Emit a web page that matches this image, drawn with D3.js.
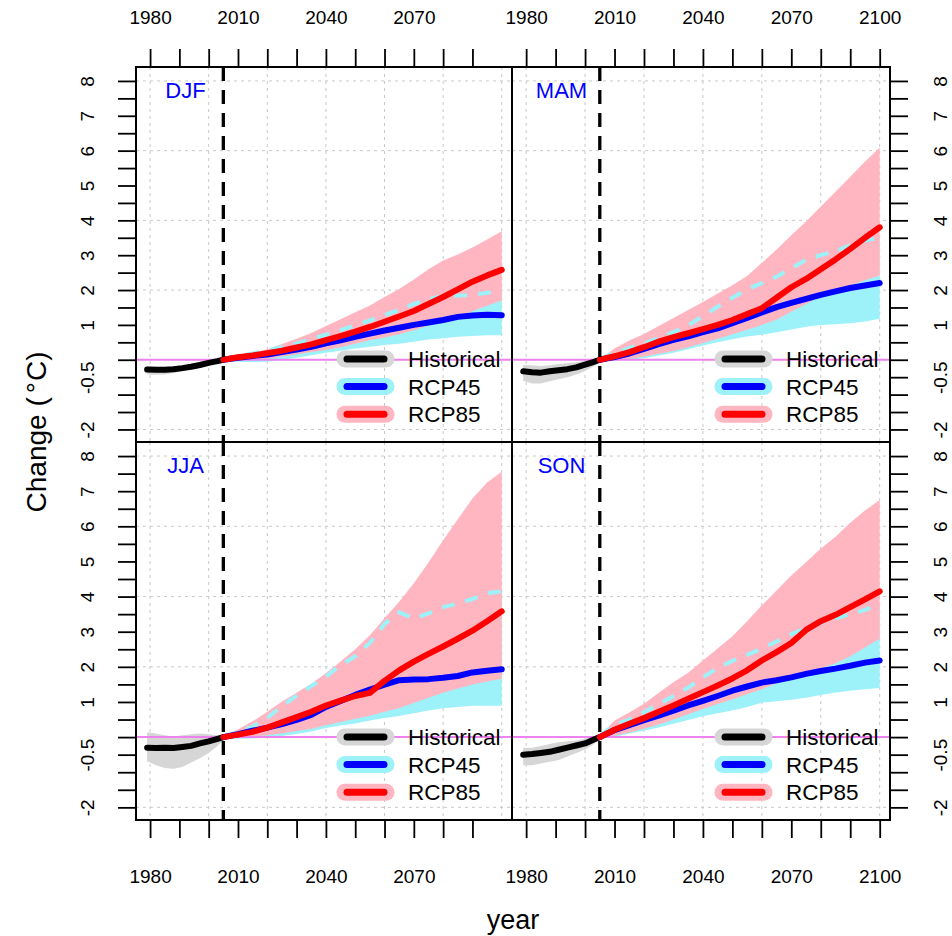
<!DOCTYPE html>
<html><head><meta charset="utf-8">
<script src="https://cdn.jsdelivr.net/npm/d3@7"></script>
<style>
body{margin:0;background:#fff}
svg{display:block;font-family:"Liberation Sans",Arial,Helvetica,sans-serif}
</style>
</head><body>
<svg id="chart" width="952" height="936"></svg>
<script>
// ---------------- data ----------------
const seasons = ["DJF", "MAM", "JJA", "SON"];
const histYears = [1979, 1982, 1985, 1988, 1991, 1994, 1997, 2000, 2003, 2005];
const futYears = [2005, 2010, 2015, 2020, 2025, 2030, 2035, 2040, 2045, 2050, 2055, 2060, 2065, 2070, 2075, 2080, 2085, 2090, 2095, 2100];
const xTickYears = [1980, 1990, 2000, 2010, 2020, 2030, 2040, 2050, 2060, 2070, 2080, 2090, 2100];
const xLabelYears = [1980, 2010, 2040, 2070, 2100];
const yTickValues = [-2, -1.5, -1, -0.5, 0, 0.5, 1, 1.5, 2, 2.5, 3, 3.5, 4, 4.5, 5, 5.5, 6, 6.5, 7, 7.5, 8];
const yTickLabels = ["-2", "", "", "-0.5", "", "", "1", "", "2", "", "3", "", "4", "", "5", "", "6", "", "7", "", "8"];
const legendLabels = ["Historical", "RCP45", "RCP85"];

// DJF
const djfHist   = [-0.28, -0.29, -0.29, -0.27, -0.24, -0.20, -0.15, -0.09, -0.04, 0.00];
const djfHistLo = [-0.42, -0.43, -0.42, -0.38, -0.34, -0.28, -0.22, -0.15, -0.08, -0.03];
const djfHistHi = [-0.18, -0.20, -0.20, -0.19, -0.16, -0.12, -0.08, -0.04, 0.00, 0.02];
const djfRcp45   = [0, 0.06, 0.11, 0.15, 0.22, 0.29, 0.37, 0.47, 0.56, 0.66, 0.75, 0.84, 0.92, 1.00, 1.07, 1.14, 1.23, 1.27, 1.29, 1.28];
const djfRcp45Lo = [-0.03, -0.06, -0.07, -0.06, 0.00, 0.06, 0.13, 0.20, 0.26, 0.32, 0.37, 0.42, 0.46, 0.52, 0.58, 0.62, 0.66, 0.68, 0.70, 0.70];
const djfRcp45Hi = [0.02, 0.10, 0.18, 0.27, 0.37, 0.47, 0.59, 0.72, 0.85, 0.99, 1.13, 1.28, 1.44, 1.60, 1.74, 1.82, 1.84, 1.86, 1.92, 1.97];
const djfRcp85   = [0, 0.07, 0.12, 0.19, 0.26, 0.35, 0.44, 0.56, 0.68, 0.81, 0.94, 1.09, 1.24, 1.40, 1.60, 1.80, 2.02, 2.24, 2.42, 2.58];
const djfRcp85Lo = [-0.02, -0.02, 0.00, 0.03, 0.09, 0.15, 0.22, 0.28, 0.36, 0.46, 0.56, 0.64, 0.73, 0.85, 0.98, 1.10, 1.24, 1.40, 1.55, 1.70];
const djfRcp85Hi = [0.02, 0.12, 0.20, 0.30, 0.45, 0.60, 0.77, 0.97, 1.16, 1.36, 1.56, 1.80, 2.03, 2.30, 2.60, 2.85, 3.02, 3.22, 3.45, 3.69];

// MAM
const mamHist   = [-0.33, -0.36, -0.37, -0.33, -0.30, -0.27, -0.22, -0.14, -0.06, 0.00];
const mamHistLo = [-0.60, -0.68, -0.68, -0.62, -0.56, -0.50, -0.42, -0.32, -0.18, -0.04];
const mamHistHi = [-0.15, -0.16, -0.18, -0.16, -0.12, -0.10, -0.07, -0.03, 0.00, 0.02];
const mamRcp45   = [0, 0.08, 0.18, 0.31, 0.45, 0.57, 0.67, 0.79, 0.90, 1.05, 1.20, 1.36, 1.51, 1.63, 1.75, 1.86, 1.96, 2.06, 2.13, 2.20];
const mamRcp45Lo = [-0.02, -0.03, 0.00, 0.04, 0.12, 0.20, 0.30, 0.41, 0.50, 0.59, 0.67, 0.72, 0.79, 0.87, 0.95, 1.00, 1.02, 1.05, 1.10, 1.18];
const mamRcp45Hi = [0.02, 0.20, 0.33, 0.47, 0.62, 0.79, 0.99, 1.25, 1.52, 1.78, 2.02, 2.20, 2.38, 2.62, 2.87, 3.00, 3.12, 3.28, 3.42, 3.50];
const mamRcp85   = [0, 0.10, 0.22, 0.36, 0.52, 0.65, 0.76, 0.88, 1.00, 1.14, 1.31, 1.48, 1.78, 2.08, 2.32, 2.60, 2.88, 3.18, 3.50, 3.80];
const mamRcp85Lo = [-0.02, -0.02, 0.03, 0.09, 0.17, 0.25, 0.36, 0.48, 0.60, 0.73, 0.86, 1.00, 1.15, 1.38, 1.60, 1.82, 1.97, 2.13, 2.28, 2.42];
const mamRcp85Hi = [0.02, 0.32, 0.55, 0.74, 0.97, 1.20, 1.43, 1.66, 1.90, 2.14, 2.40, 2.78, 3.16, 3.57, 3.97, 4.40, 4.82, 5.25, 5.68, 6.09];

// JJA
const jjaHist   = [-0.30, -0.31, -0.30, -0.31, -0.28, -0.25, -0.18, -0.12, -0.05, 0.00];
const jjaHistLo = [-0.69, -0.80, -0.88, -0.90, -0.85, -0.72, -0.60, -0.45, -0.25, -0.10];
const jjaHistHi = [0.14, 0.10, 0.05, 0.02, 0.05, 0.08, 0.10, 0.08, 0.05, 0.05];
const jjaRcp45   = [0, 0.08, 0.18, 0.27, 0.37, 0.49, 0.63, 0.86, 1.03, 1.20, 1.35, 1.49, 1.62, 1.64, 1.65, 1.69, 1.74, 1.84, 1.89, 1.93];
const jjaRcp45Lo = [-0.03, -0.05, -0.04, -0.01, 0.03, 0.09, 0.16, 0.26, 0.33, 0.39, 0.47, 0.54, 0.60, 0.68, 0.76, 0.82, 0.86, 0.89, 0.89, 0.89];
const jjaRcp45Hi = [0.02, 0.15, 0.30, 0.55, 0.88, 1.18, 1.45, 1.72, 2.05, 2.30, 2.68, 3.22, 3.55, 3.38, 3.52, 3.70, 3.80, 3.93, 4.10, 4.15];
const jjaRcp85   = [0, 0.07, 0.15, 0.27, 0.42, 0.57, 0.72, 0.90, 1.04, 1.17, 1.26, 1.60, 1.90, 2.15, 2.37, 2.58, 2.80, 3.03, 3.30, 3.58];
const jjaRcp85Lo = [-0.03, -0.02, 0.01, 0.05, 0.10, 0.17, 0.24, 0.34, 0.43, 0.52, 0.61, 0.72, 0.83, 0.97, 1.12, 1.26, 1.38, 1.50, 1.58, 1.66];
const jjaRcp85Hi = [0.02, 0.22, 0.45, 0.72, 1.01, 1.26, 1.52, 1.82, 2.15, 2.50, 2.90, 3.38, 3.85, 4.38, 4.97, 5.60, 6.20, 6.79, 7.25, 7.55];

// SON
const sonHist   = [-0.50, -0.48, -0.45, -0.42, -0.36, -0.30, -0.24, -0.18, -0.07, 0.00];
const sonHistLo = [-0.80, -0.80, -0.75, -0.70, -0.65, -0.55, -0.45, -0.35, -0.20, -0.05];
const sonHistHi = [-0.30, -0.30, -0.25, -0.20, -0.15, -0.12, -0.10, -0.05, 0.00, 0.03];
const sonRcp45   = [0, 0.20, 0.34, 0.48, 0.61, 0.75, 0.90, 1.03, 1.17, 1.32, 1.44, 1.55, 1.62, 1.70, 1.80, 1.88, 1.95, 2.03, 2.12, 2.18];
const sonRcp45Lo = [-0.03, 0.00, 0.10, 0.18, 0.27, 0.38, 0.49, 0.59, 0.68, 0.76, 0.86, 0.98, 1.02, 1.06, 1.12, 1.20, 1.27, 1.32, 1.36, 1.40];
const sonRcp45Hi = [0.03, 0.35, 0.50, 0.71, 0.94, 1.17, 1.41, 1.70, 1.97, 2.17, 2.34, 2.52, 2.72, 2.93, 3.09, 3.25, 3.38, 3.50, 3.62, 3.78];
const sonRcp85   = [0, 0.21, 0.38, 0.54, 0.72, 0.90, 1.09, 1.28, 1.47, 1.67, 1.90, 2.18, 2.42, 2.68, 3.05, 3.30, 3.48, 3.70, 3.92, 4.15];
const sonRcp85Lo = [-0.03, 0.04, 0.13, 0.24, 0.36, 0.50, 0.65, 0.80, 0.94, 1.08, 1.22, 1.36, 1.53, 1.70, 1.82, 1.96, 2.10, 2.30, 2.55, 2.80];
const sonRcp85Hi = [0.03, 0.47, 0.70, 0.95, 1.26, 1.56, 1.83, 2.18, 2.52, 2.87, 3.30, 3.75, 4.17, 4.60, 4.98, 5.37, 5.70, 6.10, 6.45, 6.75];

// ---------------- build ----------------
const panelData = [
  {name: "DJF", hist: djfHist, histLo: djfHistLo, histHi: djfHistHi, r45: djfRcp45, r45Lo: djfRcp45Lo, r45Hi: djfRcp45Hi, r85: djfRcp85, r85Lo: djfRcp85Lo, r85Hi: djfRcp85Hi},
  {name: "MAM", hist: mamHist, histLo: mamHistLo, histHi: mamHistHi, r45: mamRcp45, r45Lo: mamRcp45Lo, r45Hi: mamRcp45Hi, r85: mamRcp85, r85Lo: mamRcp85Lo, r85Hi: mamRcp85Hi},
  {name: "JJA", hist: jjaHist, histLo: jjaHistLo, histHi: jjaHistHi, r45: jjaRcp45, r45Lo: jjaRcp45Lo, r45Hi: jjaRcp45Hi, r85: jjaRcp85, r85Lo: jjaRcp85Lo, r85Hi: jjaRcp85Hi},
  {name: "SON", hist: sonHist, histLo: sonHistLo, histHi: sonHistHi, r45: sonRcp45, r45Lo: sonRcp45Lo, r45Hi: sonRcp45Hi, r85: sonRcp85, r85Lo: sonRcp85Lo, r85Hi: sonRcp85Hi}
];

const svg = d3.select("#chart");
const colX = [[136, 512], [512, 890]];
const rowY = [[67, 442], [442, 820]];
const xDomain = [1975.2, 2103.5];
const yDomain = [-2.36, 8.4];

const C = {
  histBand: "#d6d6d6", r45Band: "#9df1f9", r85Band: "#ffb6c1",
  hist: "#000000", r45: "#0000ff", r85: "#ff0000", r45Hi: "#9df1f9",
  zero: "#ee82ee", grid: "#c8c8c8", label: "#0000ff"
};

const defs = svg.append("defs");

panelData.forEach((p, i) => {
  const row = Math.floor(i / 2), col = i % 2;
  const [x0, x1] = colX[col];
  const [y0, y1] = rowY[row];
  const x = d3.scaleLinear().domain(xDomain).range([x0, x1]);
  const y = d3.scaleLinear().domain(yDomain).range([y1, y0]);

  defs.append("clipPath").attr("id", "clip" + i)
    .append("rect").attr("x", x0).attr("y", y0).attr("width", x1 - x0).attr("height", y1 - y0);

  const g = svg.append("g");
  const inner = g.append("g").attr("clip-path", `url(#clip${i})`);

  // grid
  inner.selectAll(".vg").data(d3.range(1980, 2101, 20)).join("line")
    .attr("x1", d => x(d)).attr("x2", d => x(d)).attr("y1", y0).attr("y2", y1)
    .attr("stroke", C.grid).attr("stroke-width", 1).attr("stroke-dasharray", "3,4");
  inner.selectAll(".hg").data(d3.range(-2, 8.01, 2)).join("line")
    .attr("x1", x0).attr("x2", x1).attr("y1", d => y(d)).attr("y2", d => y(d))
    .attr("stroke", C.grid).attr("stroke-width", 1).attr("stroke-dasharray", "3,4");

  const area = (yrs, lo, hi) => d3.area()
    .x((d, k) => x(yrs[k])).y0((d, k) => y(lo[k])).y1((d, k) => y(hi[k]))(yrs);
  const line = (yrs, v) => d3.line().x((d, k) => x(yrs[k])).y((d, k) => y(v[k]))(yrs);

  inner.append("path").attr("d", area(histYears, p.histLo, p.histHi)).attr("fill", C.histBand);
  inner.append("path").attr("d", area(futYears, p.r45Lo, p.r45Hi)).attr("fill", C.r45Band);
  inner.append("path").attr("d", area(futYears, p.r85Lo, p.r85Hi)).attr("fill", C.r85Band);

  // zero line
  inner.append("line").attr("x1", x0).attr("x2", x1).attr("y1", y(0)).attr("y2", y(0))
    .attr("stroke", C.zero).attr("stroke-width", 2);

  // RCP45 upper (dashed)
  inner.append("path").attr("d", line(futYears, p.r45Hi)).attr("fill", "none")
    .attr("stroke", C.r45Hi).attr("stroke-width", 4).attr("stroke-dasharray", "13,11");

  inner.append("path").attr("d", line(histYears, p.hist)).attr("fill", "none")
    .attr("stroke", C.hist).attr("stroke-width", 6).attr("stroke-linejoin", "round").attr("stroke-linecap", "round");
  inner.append("path").attr("d", line(futYears, p.r45)).attr("fill", "none")
    .attr("stroke", C.r45).attr("stroke-width", 6).attr("stroke-linejoin", "round").attr("stroke-linecap", "round");
  inner.append("path").attr("d", line(futYears, p.r85)).attr("fill", "none")
    .attr("stroke", C.r85).attr("stroke-width", 6).attr("stroke-linejoin", "round").attr("stroke-linecap", "round");

  // 2005 dashed vertical
  inner.append("line").attr("x1", x(2005)).attr("x2", x(2005)).attr("y1", y0).attr("y2", y1)
    .attr("stroke", "#000").attr("stroke-width", 3.3).attr("stroke-dasharray", "14,9");

  // season label
  g.append("text").attr("x", x0 + 49.5).attr("y", y0 + 23.5).attr("dy", "0.35em")
    .attr("text-anchor", "middle").attr("font-size", 22).attr("fill", C.label).text(p.name);

  // legend
  const bands = [C.histBand, C.r45Band, C.r85Band];
  const lines = [C.hist, C.r45, C.r85];
  legendLabels.forEach((lab, k) => {
    const ly = y1 - 83 + k * 27.6;
    g.append("line").attr("x1", x1 - 167).attr("x2", x1 - 126).attr("y1", ly).attr("y2", ly)
      .attr("stroke", bands[k]).attr("stroke-width", 17).attr("stroke-linecap", "round");
    g.append("line").attr("x1", x1 - 165).attr("x2", x1 - 128).attr("y1", ly).attr("y2", ly)
      .attr("stroke", lines[k]).attr("stroke-width", 7).attr("stroke-linecap", "round");
    g.append("text").attr("x", x1 - 104).attr("y", ly).attr("dy", "0.36em")
      .attr("font-size", 22.5).attr("fill", "#000").text(lab);
  });

  // border
  g.append("rect").attr("x", x0).attr("y", y0).attr("width", x1 - x0).attr("height", y1 - y0)
    .attr("fill", "none").attr("stroke", "#000").attr("stroke-width", 2);

  // axes
  const xTicks = col === 0 ? xTickYears.filter(d => d < 2100) : xTickYears;
  const xFmt = d => (xLabelYears.includes(d) ? String(d) : "");
  const styleAxis = sel => {
    sel.select(".domain").remove();
    sel.selectAll(".tick line").attr("stroke", "#000").attr("stroke-width", 1.8);
    sel.selectAll(".tick text").attr("font-size", 19).attr("fill", "#000").attr("font-family", "Liberation Sans, Arial, sans-serif");
  };
  if (row === 0) {
    const ax = svg.append("g").attr("transform", `translate(0,${y0})`)
      .call(d3.axisTop(x).tickValues(xTicks).tickFormat(xFmt).tickSize(18));
    styleAxis(ax);
    ax.selectAll(".tick text").attr("y", -49.5).attr("dy", "0.35em");
  } else {
    const ax = svg.append("g").attr("transform", `translate(0,${y1})`)
      .call(d3.axisBottom(x).tickValues(xTicks).tickFormat(xFmt).tickSize(18));
    styleAxis(ax);
    ax.selectAll(".tick text").attr("y", 56).attr("dy", "0.35em");
  }
  const yFmt = d => yTickLabels[yTickValues.indexOf(d)];
  if (col === 0) {
    const ay = svg.append("g").attr("transform", `translate(${x0},0)`)
      .call(d3.axisLeft(y).tickValues(yTickValues).tickFormat(yFmt).tickSize(18));
    styleAxis(ay);
    ay.selectAll(".tick text").attr("transform", "rotate(-90)")
      .attr("x", 0).attr("y", -48.5).attr("dy", "0.35em").attr("text-anchor", "middle");
  } else {
    const ay = svg.append("g").attr("transform", `translate(${x1},0)`)
      .call(d3.axisRight(y).tickValues(yTickValues).tickFormat(yFmt).tickSize(18));
    styleAxis(ay);
    ay.selectAll(".tick text").attr("transform", "rotate(-90)")
      .attr("x", 0).attr("y", 50.5).attr("dy", "0.35em").attr("text-anchor", "middle");
  }
});

// axis titles
const yt = svg.append("text").attr("transform", "translate(36,432) rotate(-90)")
  .attr("text-anchor", "middle").attr("dy", "0.35em").attr("font-size", 28);
yt.append("tspan").text("Change (");
yt.append("tspan").attr("dx", 4).text("°");
yt.append("tspan").attr("dx", 1).text("C)");
svg.append("text").attr("x", 513).attr("y", 929)
  .attr("text-anchor", "middle").attr("font-size", 27).text("year");
</script>
</body></html>
